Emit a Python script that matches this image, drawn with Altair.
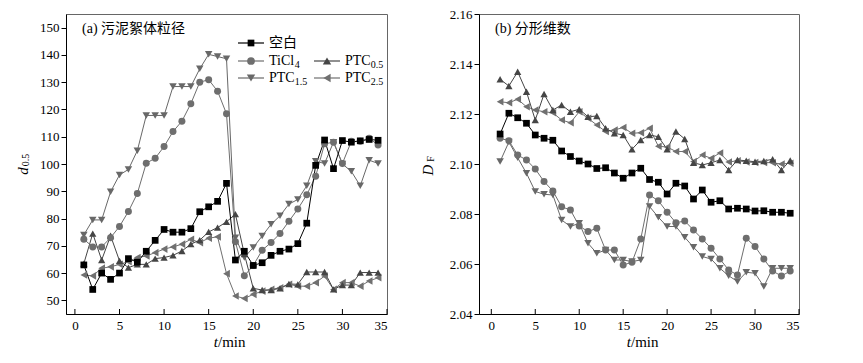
import altair as alt
import pandas as pd

# ---------------- data ----------------
t = list(range(1, 35))
series = ["空白", "TiCl4", "PTC0.5", "PTC1.5", "PTC2.5"]

# (a) d0.5
a_blank = [63, 54, 60, 57.7, 60, 65.3, 64, 68, 72, 76, 75, 75, 76.3, 82.5, 84.3, 86.3, 92.9,
           64.8, 68, 62.8, 63.8, 66.5, 68, 68.8, 70.8, 78.3, 99.5, 108.8, 98.3, 108.6, 108, 108.5, 109, 108.7]
a_ticl4 = [72.4, 69.6, 69.6, 73, 77.1, 82.6, 89.2, 100.3, 102.1, 106.4, 111.9, 115.7, 122.1, 130, 130.9, 126.7, 118.4,
           71.5, 59, 62.8, 68.4, 71.2, 74.5, 79, 83.5, 88.7, 95.5, 107.4, 108, 100.2, 108.3, 108.3, 109.4, 107]
a_ptc05 = [63.5, 74.5, 64.8, 73.7, 64.5, 62, 63.2, 63.2, 65.3, 65.7, 66.5, 68.1, 70.6, 72.1, 75.1, 76.7, 78.8,
           81.6, 67, 54.4, 53.8, 53.8, 54.4, 56, 55.9, 60.4, 60.4, 60.4, 54, 55.6, 55.6, 60.2, 60.2, 60.2]
a_ptc15 = [74, 79.5, 79.5, 89.8, 96, 98, 104.9, 117.8, 117.8, 117.8, 128.4, 128.4, 128.4, 134.9, 140.2, 139.4, 138.6,
           73, 65.7, 69.4, 73.6, 77.9, 81, 85.3, 87, 92, 101, 100.2, 108, 100, 97.3, 92, 101.4, 100.2]
a_ptc25 = [59.3, 59, 61.8, 62.3, 63.2, 64.2, 65.7, 66.3, 67.5, 68.8, 69.6, 70.6, 72.4, 71.2, 72.8, 73.3, 59.8,
           51.6, 50.7, 52.2, 53.4, 54, 54.6, 55.9, 55.2, 55.2, 56.5, 58.9, 54, 56.5, 56.5, 55.2, 57.1, 58.3]

# (b) D_F
b_blank = [2.112, 2.1203, 2.1185, 2.1163, 2.1116, 2.1103, 2.1095, 2.1052, 2.103, 2.1012, 2.1, 2.0982, 2.0985,
           2.0964, 2.0943, 2.0964, 2.0983, 2.0938, 2.0927, 2.088, 2.0923, 2.0912, 2.086, 2.0896, 2.0847, 2.0853,
           2.082, 2.0823, 2.082, 2.0812, 2.0813, 2.0807, 2.0807, 2.0803]
b_ticl4 = [2.1103, 2.1093, 2.1036, 2.1016, 2.098, 2.093, 2.0892, 2.0829, 2.0816, 2.0752, 2.073, 2.0743, 2.0656,
           2.0656, 2.0596, 2.0607, 2.07, 2.0876, 2.0853, 2.0807, 2.0765, 2.0772, 2.0736, 2.07, 2.0663, 2.062,
           2.0576, 2.0556, 2.0703, 2.067, 2.062, 2.0572, 2.0552, 2.0572]
b_ptc05 = [2.1339, 2.1312, 2.1369, 2.1289, 2.1176, 2.128, 2.1216, 2.1236, 2.1209, 2.1219, 2.1189, 2.1192, 2.1143,
           2.1123, 2.1116, 2.1059, 2.1096, 2.1116, 2.1109, 2.1059, 2.113, 2.11, 2.1005, 2.0996, 2.1005, 2.1016,
           2.0976, 2.1016, 2.1013, 2.1009, 2.1012, 2.1019, 2.0976, 2.1014]
b_ptc15 = [2.101, 2.1088, 2.1025, 2.0963, 2.089, 2.0879, 2.0876, 2.0776, 2.075, 2.0763, 2.0683, 2.0643, 2.0656,
           2.0616, 2.0616, 2.061, 2.0616, 2.083, 2.0787, 2.075, 2.075, 2.0707, 2.0667, 2.063, 2.062, 2.0583,
           2.0553, 2.053, 2.0567, 2.0563, 2.051, 2.0583, 2.0583, 2.0583]
b_ptc25 = [2.1249, 2.1245, 2.1259, 2.1229, 2.1216, 2.1209, 2.1205, 2.1176, 2.1165, 2.1209, 2.1183, 2.1156, 2.113,
           2.1136, 2.1146, 2.1123, 2.1125, 2.1143, 2.1071, 2.1068, 2.105, 2.105, 2.101, 2.1036, 2.1023, 2.1044,
           2.1008, 2.1013, 2.1008, 2.1006, 2.1006, 2.1005, 2.1, 2.1003]

x_ticks = [0, 5, 10, 15, 20, 25, 30, 35]
a_yticks = [50, 60, 70, 80, 90, 100, 110, 120, 130, 140, 150]
b_yticks = [2.04, 2.06, 2.08, 2.10, 2.12, 2.14, 2.16]

# ---------------- styles ----------------
colors = ["#000000", "#6e6e6e", "#454545", "#686868", "#707070"]
shapes = ["square", "circle", "triangle-up", "triangle-down", "triangle-left"]
sizes = [45, 60, 70, 70, 70]
FONT = "Liberation Serif, Noto Sans CJK SC"
W, H = 321, 300
W2 = 320


def long_df(vals):
    order = [4, 3, 2, 1, 0]  # black drawn last (on top)
    rows = []
    for i in order:
        for tt, v in zip(t, vals[i]):
            rows.append({"t": tt, "v": v, "s": series[i]})
    return pd.DataFrame(rows)


def txt(label, x, y, size=14, align="left", italic=False, angle=0, baseline="middle"):
    kw = dict(align=align, baseline=baseline, font=FONT, fontSize=size, color="black")
    if italic:
        kw["fontStyle"] = "italic"
    if angle:
        kw["angle"] = angle
    return alt.Chart(pd.DataFrame({"label": [label]})).mark_text(**kw).encode(
        x=alt.value(x), y=alt.value(y), text="label:N")


def legend_entry(i, main, sub, x0, y0):
    c = colors[i]
    line = alt.Chart(pd.DataFrame({"s": [series[i]]})).mark_rule(color=c, strokeWidth=1.2).encode(
        x=alt.value(x0), x2=alt.value(x0 + 26), y=alt.value(y0))
    pt = alt.Chart(pd.DataFrame({"s": [series[i]]})).mark_point(
        filled=True, opacity=1, shape=shapes[i], size=sizes[i], color=c).encode(
        x=alt.value(x0 + 13), y=alt.value(y0))
    parts = [line, pt, txt(main, x0 + 31, y0)]
    if sub:
        parts.append(txt(sub, x0 + 31 + 25.7, y0 + 4, size=10))
    return parts


def panel(vals, xdom, ydom, yticks, yfmt, width, title, ytitle, ysub, ytx, yty, legend=False):
    df = long_df(vals)
    xs = alt.Scale(domain=xdom, nice=False, zero=False)
    ys = alt.Scale(domain=ydom, nice=False, zero=False)
    xaxis = alt.Axis(values=x_ticks, ticks=False, title=None, grid=False, labelPadding=5, labels=True)
    x = alt.X("t:Q", scale=xs, axis=xaxis)
    y = alt.Y("v:Q", scale=ys, axis=alt.Axis(values=yticks, format=yfmt, tickSize=5, title=None,
                                               grid=False, labelPadding=2))
    color = alt.Color("s:N", scale=alt.Scale(domain=series, range=colors), legend=None)
    shape = alt.Shape("s:N", scale=alt.Scale(domain=series, range=shapes), legend=None)
    size = alt.Size("s:N", scale=alt.Scale(domain=series, range=sizes), legend=None)
    lines = alt.Chart(df).mark_line(strokeWidth=1).encode(x=x, y=y, color=color, order="t:Q")
    pts = alt.Chart(df).mark_point(filled=True, opacity=1).encode(x=x, y=y, color=color, shape=shape, size=size)
    ticks = alt.Chart(pd.DataFrame({"t": x_ticks})).mark_rule(color="black").encode(
        x=alt.X("t:Q", scale=xs, axis=xaxis), y=alt.value(H), y2=alt.value(H - 5))
    layers = [lines, pts, ticks,
              txt(title, 16, 15),
              txt("t", 152, 328, size=15, align="right", italic=True),
              txt("/min", 152, 328, size=15),
              txt(ytitle, ytx, yty, size=15, align="center", italic=True, angle=270),
              txt(ysub, ytx + 3, yty - 11, size=10, align="center", angle=270)]
    if legend:
        layers += legend_entry(0, "空白", None, 172, 29)
        layers += legend_entry(1, "TiCl", "4", 172, 47)
        layers += legend_entry(2, "PTC", "0.5", 248, 47)
        layers += legend_entry(3, "PTC", "1.5", 172, 64)
        layers += legend_entry(4, "PTC", "2.5", 248, 64)
    return alt.layer(*layers).properties(width=width, height=H)


left = panel([a_blank, a_ticl4, a_ptc05, a_ptc15, a_ptc25], [-1, 35], [45, 155], a_yticks, "d",
             W, "(a) 污泥絮体粒径", "d", "0.5", -43, 157, legend=True)
right = panel([b_blank, b_ticl4, b_ptc05, b_ptc15, b_ptc25], [-1.4, 35], [2.04, 2.16], b_yticks, ".2f",
              W2, "(b) 分形维数", "D", "F", -51, 156)

chart = alt.hconcat(left, right, spacing=32).properties(
    padding={"left": 7, "top": -1, "right": 5, "bottom": 0}
).configure_view(stroke="#666666", strokeWidth=1).configure_axis(
    labelFont="Liberation Serif", labelFontSize=13, labelColor="black",
    domainColor="black", tickColor="black", domainWidth=1
)

chart.save("out.html", embed_options={"renderer": "svg", "actions": False})
